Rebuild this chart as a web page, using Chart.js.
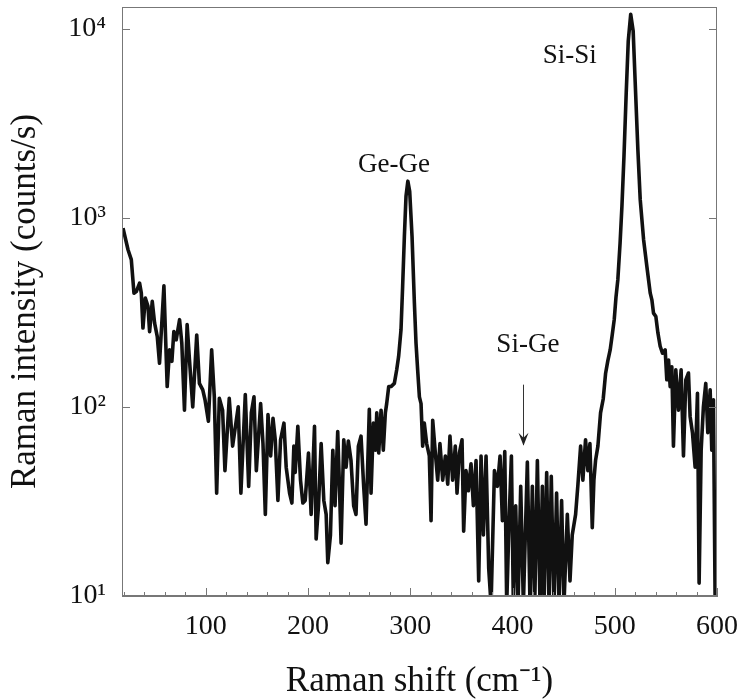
<!DOCTYPE html>
<html>
<head>
<meta charset="utf-8">
<script src="https://cdn.jsdelivr.net/npm/chart.js@4.4.0/dist/chart.umd.min.js"></script>
<style>
  html, body { margin: 0; padding: 0; background: #fff; }
  #wrap { width: 744px; height: 699px; }
</style>
</head>
<body>
<div id="wrap"><canvas id="chart" width="744" height="699"></canvas></div>
<script>
// ---- spectrum (cm-1, counts/s) ----
const shift = [
  19.0, 23.9, 27.1, 29.7, 32.0, 35.2, 36.9, 38.5, 40.8, 43.4, 45.0, 47.6, 49.9, 52.5, 54.7,
  59.0, 62.2, 64.5, 66.8, 68.7, 71.0, 74.3, 76.5, 79.1, 81.7, 84.0, 87.2, 91.1, 93.7, 97.0,
  99.2, 102.5, 105.7, 108.3, 110.6, 113.2, 116.4, 118.7, 122.9, 126.2, 129.4, 131.7, 134.3, 138.6,
  141.9, 144.5, 147.1, 149.4, 153.6, 155.9, 158.2, 160.8, 163.4, 165.7, 167.9, 170.5, 173.1,
  176.4, 178.6, 181.9, 184.2, 186.1, 187.4, 190.0, 192.6, 194.9, 197.2, 200.4, 203.0, 206.3,
  207.9, 210.2, 212.8, 215.4, 217.7, 219.3, 221.9, 224.2, 226.4, 229.0, 230.7, 232.3, 234.9,
  237.2, 239.4, 242.0, 244.6, 246.9, 249.2, 251.8, 254.4, 256.7, 259.9,
  261.6, 263.9, 265.9, 267.2, 269.1, 271.4, 273.6, 275.6, 276.9, 278.9, 281.1, 284.4, 286.7,
  288.6, 290.9, 292.5, 294.2, 295.8, 297.6, 299.4, 301.7, 304.0, 305.6, 307.2, 308.9, 310.5,
  312.1, 313.7, 316.0, 318.6, 320.3, 321.9, 324.5, 326.8, 329.0, 331.7, 334.3, 336.6, 338.8,
  341.4, 344.0, 345.7, 348.0, 350.6, 352.2, 354.5, 356.8, 359.4, 361.7, 364.3, 366.9, 369.2,
  371.5, 374.1, 376.7, 379.0, 382.3,
  385.2, 387.8, 390.1, 392.4, 394.3, 396.6, 398.9, 400.8, 403.1, 405.4, 408.0, 410.6, 414.5,
  417.1, 419.4, 421.7, 424.3, 426.9, 429.2, 430.8, 433.4, 435.7, 437.9, 440.5, 443.1, 445.4,
  448.0, 450.3, 453.6, 456.2, 458.4, 461.7, 464.0, 466.6, 468.8, 471.4, 473.7, 475.7, 478.0,
  479.6, 481.2, 483.5, 486.1, 488.7, 491.0, 493.2, 495.5, 497.5, 499.5, 501.2, 503.0, 505.2,
  507.0, 509.0, 511.2, 513.2, 515.6, 518.0, 520.0, 522.6, 524.9, 528.2, 531.4, 534.7,
  536.3, 537.9, 540.2, 542.2, 544.4, 546.7, 549.3, 550.9, 552.6, 554.2, 555.8, 557.4, 559.7,
  562.3, 564.9, 567.2, 569.5, 572.1, 573.7, 576.0, 578.6, 580.9, 582.5, 584.5, 586.7, 589.0,
  591.0, 593.3, 594.9, 596.5, 598.2, 600.0
];
const intensity = [
  881, 677, 600, 399, 407, 451, 399, 261, 376, 340, 250, 361, 277, 235, 170,
  436, 128, 200, 174, 250, 226, 289, 217, 96, 272, 177, 100, 240, 133, 123,
  109, 84, 200, 113, 35, 111, 96, 46, 111, 62, 82, 100, 35, 116,
  38, 93, 113, 46, 104, 64, 27, 91, 55, 87, 67, 32, 67,
  82, 48, 35, 31, 62, 45, 79, 41, 31, 32, 57, 27, 79,
  20, 30, 64, 32, 27, 15, 21, 59, 30, 74, 38, 19, 67,
  48, 66, 52, 30, 27, 62, 70, 38, 24, 97,
  35, 82, 59, 93, 57, 96, 59, 93, 104, 128, 128, 133, 157,
  185, 255, 433, 796, 1297, 1560, 1380, 796, 354, 217, 157, 113, 104,
  62, 82, 64, 55, 25, 85, 57, 41, 64, 41, 55, 39, 70,
  41, 62, 35, 57, 67, 22, 46, 36, 50, 30, 52, 12, 55,
  21, 55, 14, 9, 46,
  38, 55, 25, 58, 9, 25, 55, 9, 30, 9, 38, 9, 51,
  9, 38, 9, 52, 9, 38, 9, 45, 9, 43, 9, 35, 9,
  32, 9, 27, 12, 21, 27, 39, 62, 41, 67, 46, 64, 23,
  41, 52, 62, 93, 110, 150, 175, 200, 240, 290, 380, 470, 735,
  1148, 2110, 4570, 8600, 11900, 9700, 5160, 2290, 1245, 765, 552, 399,
  368, 313, 300, 246, 209, 192, 200, 139, 177, 128, 163, 62, 157,
  96, 157, 55, 139, 151, 89, 73, 48, 118, 11.7, 59, 100, 133,
  73, 123, 59, 109, 9, 9
];

// ---- axes ----
const xLabelValues = [100, 200, 300, 400, 500, 600];
const yTickValues = [10, 100, 1000, 10000];
const yTickLabels = ['10\u00B9', '10\u00B2', '10\u00B3', '10\u2074'];

// ---- peak labels (data coordinates) ----
const peakNames = ['Ge-Ge', 'Si-Si', 'Si-Ge'];
const peakLabelX = [284, 456, 415];
const peakLabelY = [1750, 6610, 195];
const arrowX = 410, arrowTop = 131, arrowTip = 63;

const serif = "'Liberation Serif', 'Times New Roman', serif";
const ink = '#111';
const axisGray = '#777';

// frame, inward tick marks and peak annotations
const decorPlugin = {
  id: 'decor',
  afterDraw(chart) {
    const { ctx, chartArea: a, scales: { x, y } } = chart;
    ctx.save();
    ctx.strokeStyle = axisGray;
    ctx.lineWidth = 1;
    ctx.strokeRect(a.left + 0.5, a.top + 0.5, a.right - a.left - 1, a.bottom - a.top - 1);

    ctx.beginPath();
    for (let v = 20; v <= 600; v += 20) {
      const px = Math.round(x.getPixelForValue(v)) + 0.5;
      const len = v % 100 === 0 ? 8 : 4;
      ctx.moveTo(px, a.bottom);
      ctx.lineTo(px, a.bottom - len);
    }
    yTickValues.forEach(v => {
      const py = Math.round(y.getPixelForValue(v)) + 0.5;
      ctx.moveTo(a.left, py); ctx.lineTo(a.left + 8, py);
      ctx.moveTo(a.right, py); ctx.lineTo(a.right - 8, py);
    });
    ctx.stroke();

    ctx.fillStyle = ink;
    ctx.font = '27px ' + serif;
    ctx.textAlign = 'center';
    ctx.textBaseline = 'alphabetic';
    peakNames.forEach((name, i) => {
      ctx.fillText(name, x.getPixelForValue(peakLabelX[i]), y.getPixelForValue(peakLabelY[i]));
    });

    const ax = Math.round(x.getPixelForValue(arrowX)) + 0.5;
    const y0 = y.getPixelForValue(arrowTop);
    const y1 = y.getPixelForValue(arrowTip);
    ctx.strokeStyle = '#333';
    ctx.lineWidth = 1;
    ctx.beginPath();
    ctx.moveTo(ax, y0); ctx.lineTo(ax, y1);
    ctx.stroke();
    ctx.fillStyle = '#222';
    ctx.beginPath();
    ctx.moveTo(ax, y1 + 1);
    ctx.lineTo(ax - 5, y1 - 12);
    ctx.lineTo(ax, y1 - 7);
    ctx.lineTo(ax + 5, y1 - 12);
    ctx.closePath();
    ctx.fill();
    ctx.restore();
  }
};

// fixed axis boxes so the plot area lands where the figure has it
function fixBox(size) {
  return s => {
    if (s.isHorizontal()) s.height = size; else s.width = size;
    s.paddingLeft = 0; s.paddingRight = 0; s.paddingTop = 0; s.paddingBottom = 0;
  };
}

new Chart(document.getElementById('chart'), {
  type: 'line',
  data: {
    datasets: [{
      data: shift.map((s, i) => ({ x: s, y: intensity[i] })),
      borderColor: ink,
      borderWidth: 3.6,
      borderJoinStyle: 'round',
      pointRadius: 0,
      tension: 0,
      clip: 0
    }]
  },
  options: {
    responsive: false,
    animation: false,
    layout: { padding: { left: 8, right: 27, top: 7, bottom: 0 } },
    plugins: { legend: { display: false }, tooltip: { enabled: false } },
    scales: {
      x: {
        type: 'linear',
        min: 18,
        max: 600,
        afterBuildTicks: s => { s.ticks = xLabelValues.map(v => ({ value: v })); },
        afterFit: fixBox(103),
        ticks: {
          callback: v => String(v),
          font: { family: serif, size: 28 },
          color: ink,
          padding: 14,
          maxRotation: 0,
          autoSkip: false
        },
        grid: { display: false, drawTicks: false },
        border: { display: true, color: axisGray, width: 1 },
        title: {
          display: true,
          text: 'Raman shift (cm\u207B\u00B9)',
          font: { family: serif, size: 35, lineHeight: 1 },
          color: ink,
          padding: { top: 0, bottom: 0 }
        }
      },
      y: {
        type: 'logarithmic',
        min: 10,
        max: 13000,
        afterBuildTicks: s => { s.ticks = yTickValues.map(v => ({ value: v })); },
        afterFit: fixBox(114),
        ticks: {
          callback: v => yTickLabels[yTickValues.indexOf(v)],
          font: { family: serif, size: 28 },
          color: ink,
          padding: 16,
          autoSkip: false
        },
        grid: { display: false, drawTicks: false },
        border: { display: true, color: axisGray, width: 1 },
        title: {
          display: true,
          text: 'Raman intensity (counts/s)',
          font: { family: serif, size: 35, lineHeight: 1 },
          color: ink,
          padding: { top: 0, bottom: 0 }
        }
      }
    }
  },
  plugins: [decorPlugin]
});
</script>
</body>
</html>
